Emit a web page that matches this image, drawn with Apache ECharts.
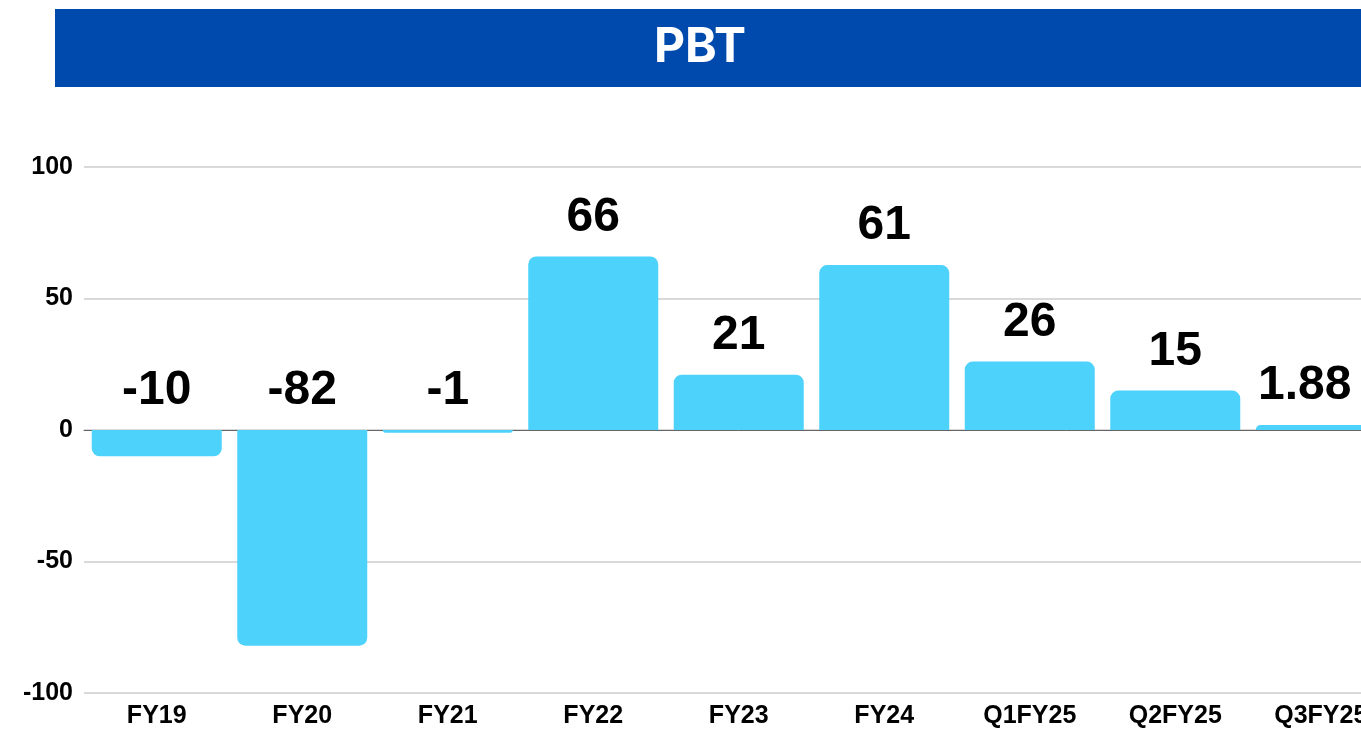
<!DOCTYPE html>
<html>
<head>
<meta charset="utf-8">
<script src="https://cdn.jsdelivr.net/npm/echarts@6/dist/echarts.min.js"></script>
<style>
html,body{margin:0;padding:0;background:#fff;overflow:hidden;}
#chart{width:1400px;height:731px;}
</style>
</head>
<body>
<div id="chart"></div>
<script>
const titleText = 'PBT';
const categories = ['FY19','FY20','FY21','FY22','FY23','FY24','Q1FY25','Q2FY25','Q3FY25'];
const values = [-10, -82, -1, 66, 21, 62.7, 26, 15, 1.88];
const valueLabels = ['-10','-82','-1','66','21','61','26','15','1.88'];
const yTicks = { min: -100, max: 100, interval: 50 };

const chart = echarts.init(document.getElementById('chart'), null, {renderer:'canvas'});
const lastIdx = values.length - 1;
chart.setOption({
  animation: false,
  backgroundColor: '#ffffff',
  graphic: [
    { type: 'rect', left: 55, top: 9, shape: { width: 1345, height: 78 }, style: { fill: '#004AAD' }, z: 1 },
    { type: 'text', x: 700, y: 48, z: 2,
      style: { text: titleText, fill: '#ffffff', font: 'bold 48px Inter', textAlign: 'center', textVerticalAlign: 'middle' } }
  ],
  grid: { left: 84, right: 6.5, top: 167, bottom: 38, containLabel: false },
  xAxis: {
    type: 'category',
    data: categories,
    axisTick: { show: false },
    axisLine: { show: true, onZero: true, lineStyle: { color: '#666666', width: 1 } },
    axisLabel: { color: '#000', fontFamily: 'Liberation Sans, Arial, sans-serif', fontWeight: 'bold', fontSize: 25, margin: 11, interval: 0 }
  },
  yAxis: {
    type: 'value',
    min: yTicks.min, max: yTicks.max, interval: yTicks.interval,
    axisLine: { show: false },
    axisTick: { show: false },
    splitLine: { lineStyle: { color: '#cccccc', width: 1.5 } },
    axisLabel: { color: '#000', fontFamily: 'Liberation Sans, Arial, sans-serif', fontWeight: 'bold', fontSize: 25, margin: 11, verticalAlign: 'middle', padding: [7,0,0,0] }
  },
  series: [{
    type: 'bar',
    data: values.map((v, i) => {
      const item = { value: v, itemStyle: { borderRadius: v >= 0 ? [8,8,0,0] : [0,0,8,8] } };
      if (i === lastIdx) item.label = { offset: [-16, 0] };
      return item;
    }),
    barWidth: 130,
    itemStyle: { color: '#4DD2FC' },
    label: {
      show: true,
      position: 'top',
      distance: 15,
      color: '#000',
      fontFamily: 'Liberation Sans, Arial, sans-serif',
      fontWeight: 'bold',
      fontSize: 48,
      formatter: p => valueLabels[p.dataIndex]
    }
  }]
});
</script>
</body>
</html>
